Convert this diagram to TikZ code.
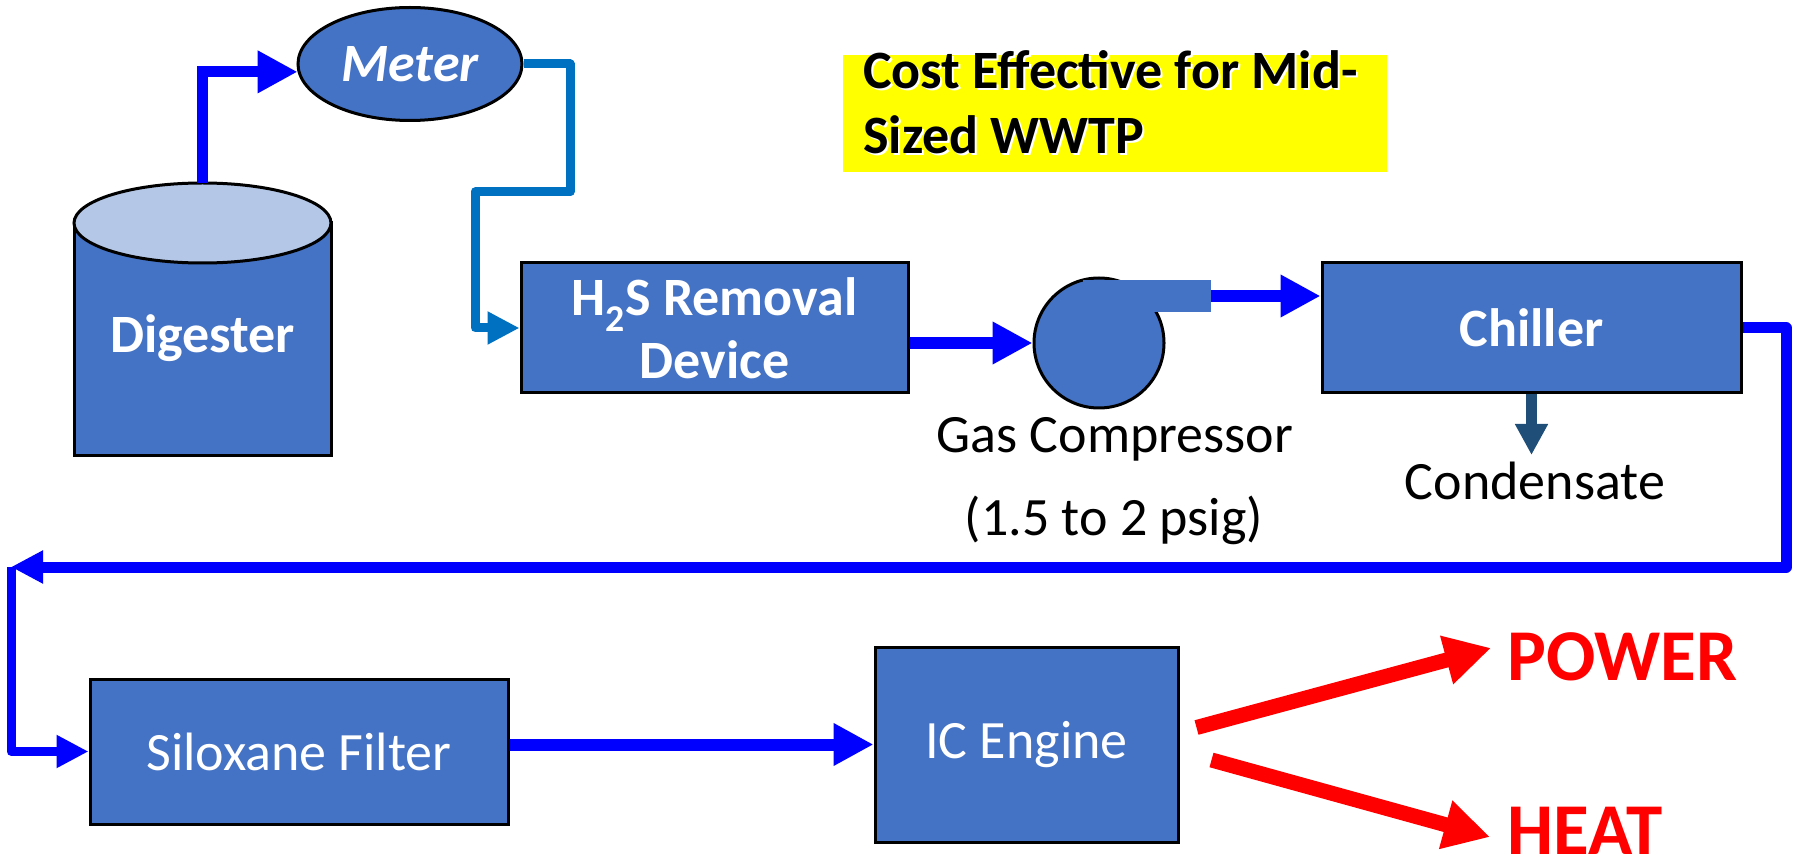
\documentclass[tikz,border=0pt]{standalone}
\usepackage{fontspec}
\setmainfont{Carlito}
\usetikzlibrary{arrows.meta,calc,shapes.geometric}
\definecolor{boxblue}{HTML}{4472C4}
\definecolor{topblue}{HTML}{B4C7E7}
\definecolor{flowblue}{HTML}{0000FF}
\definecolor{meterblue}{HTML}{0070C0}
\definecolor{condblue}{HTML}{1F4E79}
\definecolor{hlyellow}{HTML}{FFFF00}
\definecolor{powred}{HTML}{FF0000}
\begin{document}
\begin{tikzpicture}[x=1pt,y=-1pt,
  unitbox/.style={draw=black,line width=3pt,fill=boxblue,text=white,align=center,inner sep=0pt},
  lbl/.style={font=\fontsize{54}{63}\selectfont},
  blbl/.style={font=\bfseries\fontsize{54}{63}\selectfont},
  flow/.style={draw=flowblue,line width=12pt,-{Triangle[length=40pt,width=40pt]}},
  loopflow/.style={draw=flowblue,line width=11pt,line join=round,-{Triangle[length=32pt,width=31pt]}},
  mflow/.style={draw=meterblue,line width=9pt,line join=round,-{Triangle[length=32pt,width=31pt]}},
  cflow/.style={draw=condblue,line width=10.5pt,-{Triangle[length=31pt,width=31pt]}},
  redflow/.style={draw=powred,line width=15pt,-{Triangle[length=46pt,width=47pt]}},
  outtxt/.style={text=powred,font=\bfseries\fontsize{73}{88}\selectfont,inner sep=0pt}
]
\useasboundingbox (0,0) rectangle (1797,866);

% Digester (cylinder)
\draw[line width=3pt,fill=boxblue] (74,223) rectangle (331,456);
\draw[line width=3pt,fill=topblue] (202.5,223) ellipse [x radius=128.5pt, y radius=40pt];
\node[blbl,text=white,anchor=base,inner sep=0pt] (dig) at (202.5,353) {Digester};
\coordinate (digtop) at (202.5,183);

% Meter
\node[ellipse,draw=black,line width=3pt,fill=boxblue,text=white,inner sep=0pt,
      minimum width=224pt,minimum height=113pt,
      font=\bfseries\itshape\fontsize{54}{63}\selectfont] (meter) at (410,64) {Meter};

% Highlight box
\node[fill=hlyellow,anchor=north west,inner sep=0pt,minimum width=544pt,minimum height=117pt] (ybox) at (843,55) {};
\node[anchor=north west,align=left,inner sep=0pt,text=white,font=\bfseries\fontsize{54}{65}\selectfont] (yshadow) at (865,52) {Cost Effective for Mid-\\Sized WWTP};
\node[anchor=north west,align=left,inner sep=0pt,text=black,font=\bfseries\fontsize{54}{65}\selectfont] (ytxt) at (863,50) {Cost Effective for Mid-\\Sized WWTP};

% Process boxes
\node[unitbox,blbl,minimum width=387pt,minimum height=130pt] (h2s) at (714.5,328) {H\textsubscript{2}S Removal\\Device};
\node[unitbox,blbl,minimum width=419pt,minimum height=130pt] (chiller) at (1531.5,328) {Chiller};
\node[unitbox,lbl,minimum width=418pt,minimum height=145pt] (silox) at (299,751.5) {Siloxane Filter};
\node[unitbox,lbl,minimum width=303pt,minimum height=195pt] (ic) at (1026.5,744.5) {IC Engine};

% Compressor
\node[circle,draw=black,line width=3pt,fill=boxblue,inner sep=0pt,minimum size=130pt] (comp) at (1099,343) {};
\node[rectangle,fill=boxblue,inner sep=0pt,minimum width=128pt,minimum height=32pt] (outlet) at (1147,296) {};
\node[anchor=base,inner sep=0pt,lbl] (gctxt) at (1115,453) {Gas Compressor};
\node[anchor=base,inner sep=0pt,lbl] (psig) at (1114,535) {(1.5 to 2 psig)};

% Condensate
\node[anchor=base,inner sep=0pt,lbl] (cond) at (1535,499) {Condensate};
\coordinate (condE) at (1531.5,455);

% Outputs
\node[outtxt,anchor=base west] (power) at (1507,680) {POWER};
\node[outtxt,anchor=base west] (heat) at (1507,854) {HEAT};
\coordinate (pwS) at ($(ic.east)+(17,-17)$);
\coordinate (pwE) at (1491,648);
\coordinate (htS) at ($(ic.east)+(32,15.5)$);
\coordinate (htE) at (1490,837);

% Connectors
\draw[flow,line width=11pt] (digtop) |- (meter.184);
\draw[mflow] (meter.east) -| (570,192) -| (475,328) -- (h2s.west);
\draw[flow] (h2s.east |- comp.west) -- (comp.west);
\draw[flow] (outlet.east) -- (chiller.west |- outlet.east);
\draw[cflow] (chiller.south) -- (condE);
\coordinate (loopL) at (11,567);
\draw[loopflow] (chiller.east) -| (1786,567) -- (loopL);
\draw[loopflow,line width=9pt] (loopL) |- (silox.west);
\draw[flow] (silox.east |- ic.west) -- (ic.west);
\draw[redflow] (pwS) -- (pwE);
\draw[redflow] (htS) -- (htE);
\end{tikzpicture}
\end{document}
